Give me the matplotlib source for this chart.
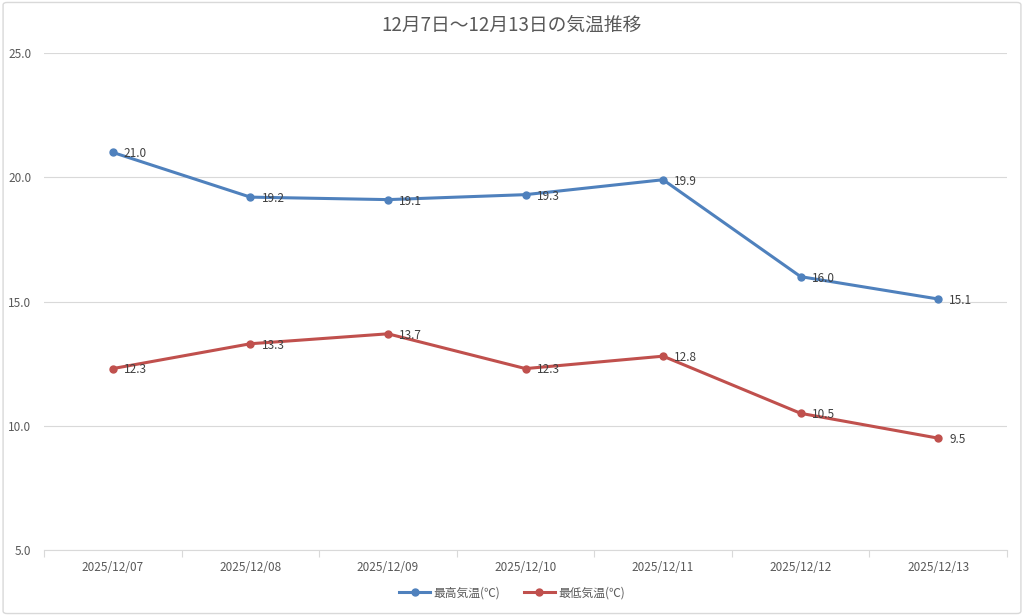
import matplotlib
matplotlib.use("Agg")
import matplotlib.pyplot as plt
from matplotlib.patches import FancyBboxPatch
import numpy as np

plt.rcParams['font.family'] = ['Noto Sans CJK JP', 'DejaVu Sans']

dates = ["2025/12/07", "2025/12/08", "2025/12/09", "2025/12/10",
         "2025/12/11", "2025/12/12", "2025/12/13"]
high = [21.0, 19.2, 19.1, 19.3, 19.9, 16.0, 15.1]
low = [12.3, 13.3, 13.7, 12.3, 12.8, 10.5, 9.5]
title = "12月7日～12月13日の気温推移"
high_name = "最高気温(℃)"
low_name = "最低気温(℃)"

blue = "#4F81BD"
red = "#C0504D"
txt = "#595959"

fig = plt.figure(figsize=(10.24, 6.16), dpi=100)
fig.patch.set_facecolor("white")
border = FancyBboxPatch((0.003, 0.004), 0.994, 0.992, boxstyle="round,pad=0,rounding_size=0.004",
                        transform=fig.transFigure, fill=False, edgecolor="#D9D9D9", linewidth=1.0)
fig.patches.append(border)

ax = fig.add_axes([44/1024, 1 - 550/616, (1007 - 44)/1024, (550 - 53)/616])
x = np.arange(len(dates))

l1, = ax.plot(x, high, color=blue, linewidth=2.2, marker="o", markersize=5, label=high_name)
l2, = ax.plot(x, low, color=red, linewidth=2.2, marker="o", markersize=5, label=low_name)

for xi, v in zip(x, high):
    ax.annotate(f"{v:.1f}", (xi, v), xytext=(8, -1), textcoords="offset points",
                ha="left", va="center", fontsize=8.5, color="#404040")
for xi, v in zip(x, low):
    ax.annotate(f"{v:.1f}", (xi, v), xytext=(8, -1), textcoords="offset points",
                ha="left", va="center", fontsize=8.5, color="#404040")

ax.set_xlim(-0.5, len(dates) - 0.5)
ax.set_ylim(5, 25)
ax.set_yticks([5, 10, 15, 20, 25])
ax.set_yticklabels([f"{v:.1f}" for v in [5, 10, 15, 20, 25]], fontsize=8.5, color=txt)
ax.yaxis.grid(True, color="#D9D9D9", linewidth=0.8)
ax.set_axisbelow(True)
ax.tick_params(axis="y", length=0, pad=9)

ax.set_xticks(np.arange(-0.5, len(dates), 1.0))
ax.set_xticklabels([])
ax.tick_params(axis="x", which="major", length=5, color="#D9D9D9")
ax.set_xticks(x, minor=True)
ax.set_xticklabels(dates, minor=True, fontsize=8.5, color=txt)
ax.tick_params(axis="x", which="minor", length=0, pad=8)

for s in ["top", "right", "left"]:
    ax.spines[s].set_visible(False)
ax.spines["bottom"].set_color("#D9D9D9")

fig.text(0.5, 1 - 25/616, title, ha="center", va="center", fontsize=13.5, color=txt)

fig.legend(handles=[l1, l2], loc="center", bbox_to_anchor=(0.5, 1 - 593/616), ncol=2,
           frameon=False, fontsize=8.5, labelcolor=txt, handlelength=2.6, columnspacing=2.0,
           handletextpad=0.3)

fig.savefig("out.png", dpi=100, facecolor="white")
